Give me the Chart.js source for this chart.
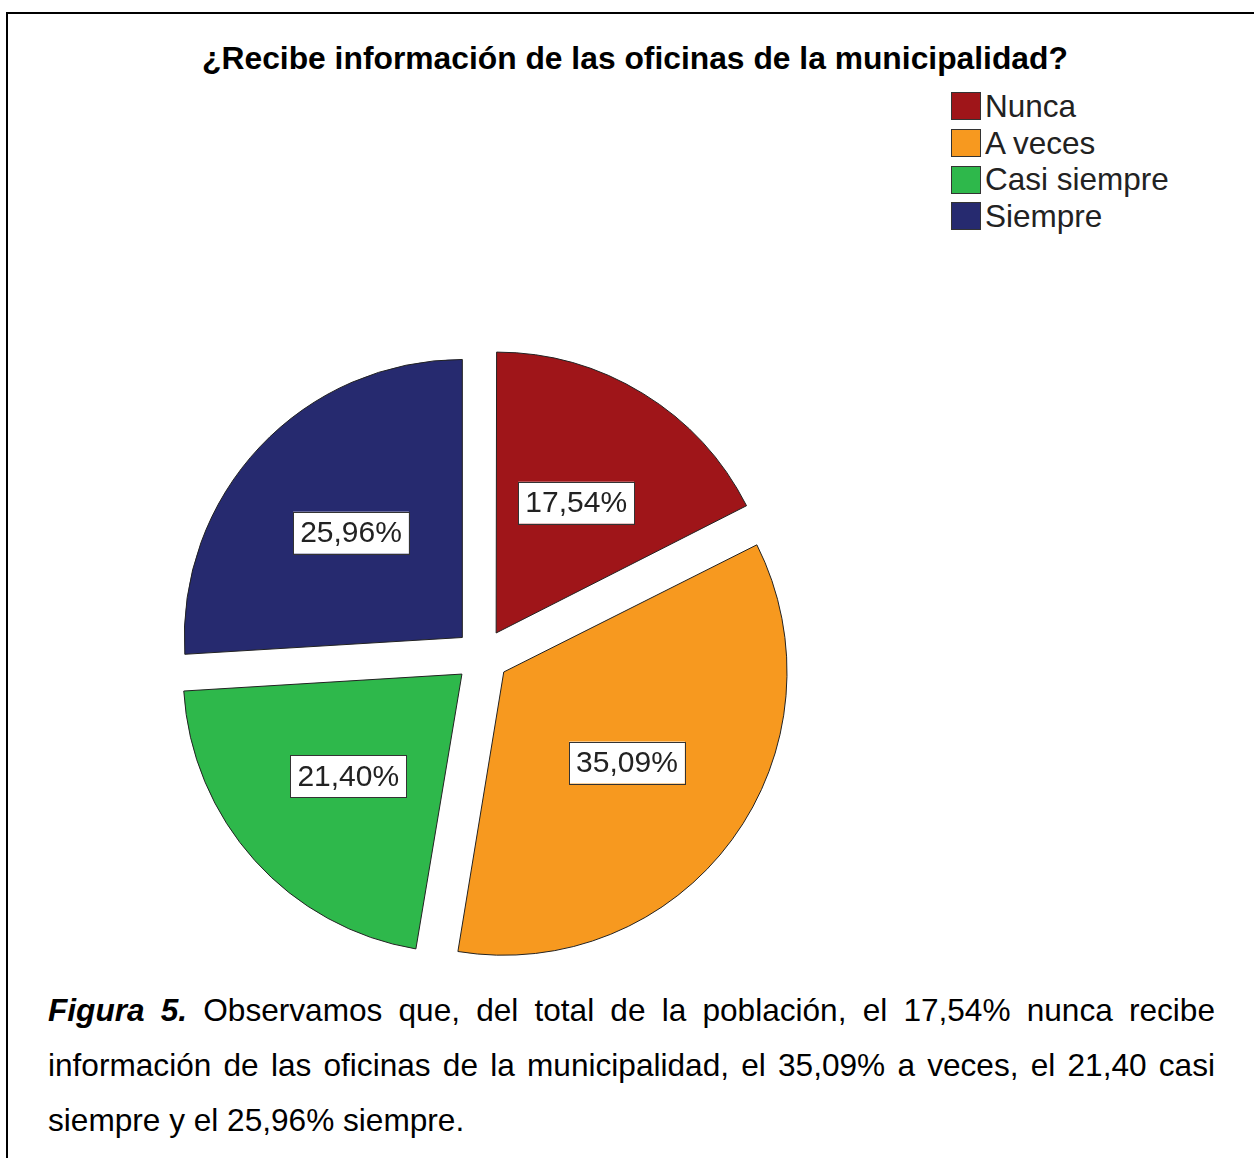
<!DOCTYPE html>
<html>
<head>
<meta charset="utf-8">
<script src="https://cdn.jsdelivr.net/npm/chart.js@4.4.1/dist/chart.umd.min.js"></script>
<style>
    body { margin: 0; background: #fff; overflow: hidden; width: 1254px; height: 1158px; position: relative; font-family: "Liberation Sans", Arial, sans-serif; }
    #frame { position: absolute; left: 6px; top: 12px; width: 1300px; height: 1300px; border: 2px solid #000; }
    #title { position: absolute; left: 0; width: 1270px; top: 40px; text-align: center; font-weight: bold; font-size: 31.8px; color: #000; }
    #pie { position: absolute; left: 152px; top: 326px; }
    #legend { position: absolute; left: 951px; top: 88px; color: #222; font-size: 31.5px; }
    #legend .item { height: 36.7px; display: flex; align-items: center; }
    #legend .box { width: 28px; height: 26px; border: 1px solid #333; margin-right: 4px; }
    #caption { position: absolute; left: 48px; top: 988px; width: 1167px; font-size: 31.6px; color: #000; }
    #caption .line { height: 55px; line-height: 44px; white-space: nowrap; text-align: justify; text-align-last: justify; }
    #caption .line.last { text-align-last: left; }
</style>
</head>
<body>
<div id="frame"></div>
<div id="title">¿Recibe información de las oficinas de la municipalidad?</div>
<div id="legend"></div>
<canvas id="pie" width="660" height="660"></canvas>
<div id="caption">
    <div class="line"><b><i>Figura 5.</i></b> Observamos que, del total de la población, el 17,54% nunca recibe</div>
    <div class="line">información de las oficinas de la municipalidad, el 35,09% a veces, el 21,40 casi</div>
    <div class="line last">siempre y el 25,96% siempre.</div>
</div>
<script>
    // Data
    const categories = ['Nunca', 'A veces', 'Casi siempre', 'Siempre'];
    const percentages = [17.54, 35.09, 21.40, 25.96];
    const sliceColors = ['#9f1519', '#f7991f', '#2eb84b', '#262a6f'];

    // Legend built from the same arrays
    const legendEl = document.getElementById('legend');
    categories.forEach((name, i) => {
        const row = document.createElement('div');
        row.className = 'item';
        row.innerHTML = '<span class="box" style="background:' + sliceColors[i] + '"></span>' + name;
        legendEl.appendChild(row);
    });

    // Boxed percentage labels inside each slice
    const boxedLabels = {
        id: 'boxedLabels',
        afterDatasetsDraw(chart) {
            const ctx = chart.ctx;
            const meta = chart.getDatasetMeta(0);
            ctx.save();
            ctx.font = '30px "Liberation Sans", Arial, sans-serif';
            ctx.textAlign = 'center';
            ctx.textBaseline = 'middle';
            meta.data.forEach((arc, i) => {
                const p = arc.getProps(['x', 'y', 'startAngle', 'endAngle', 'outerRadius']);
                const mid = (p.startAngle + p.endAngle) / 2;
                // arcs are shifted by offset / 4 in Chart.js v4
                const dist = arc.options.offset / 4 + 0.55 * p.outerRadius;
                const x = p.x + Math.cos(mid) * dist;
                const y = p.y + Math.sin(mid) * dist;
                const text = percentages[i].toFixed(2).replace('.', ',') + '%';
                const w = ctx.measureText(text).width + 14;
                const h = 42;
                ctx.fillStyle = '#fff';
                ctx.fillRect(x - w / 2, y - h / 2, w, h);
                ctx.strokeStyle = '#333';
                ctx.lineWidth = 1;
                ctx.strokeRect(Math.round(x - w / 2) + 0.5, Math.round(y - h / 2) + 0.5, Math.round(w), h);
                ctx.fillStyle = '#222';
                ctx.fillText(text, x, y + 1);
            });
            ctx.restore();
        }
    };

    const ctx = document.getElementById('pie').getContext('2d');
    const pieChart = new Chart(ctx, {
        type: 'pie',
        data: {
            labels: categories,
            datasets: [{
                data: percentages,
                backgroundColor: sliceColors,
                borderColor: '#222',
                borderWidth: 1,
                offset: 108
            }]
        },
        options: {
            responsive: false,
            animation: false,
            radius: 278,
            layout: { padding: 0 },
            plugins: {
                legend: { display: false },
                tooltip: { enabled: false }
            }
        },
        plugins: [boxedLabels]
    });
</script>
</body>
</html>
